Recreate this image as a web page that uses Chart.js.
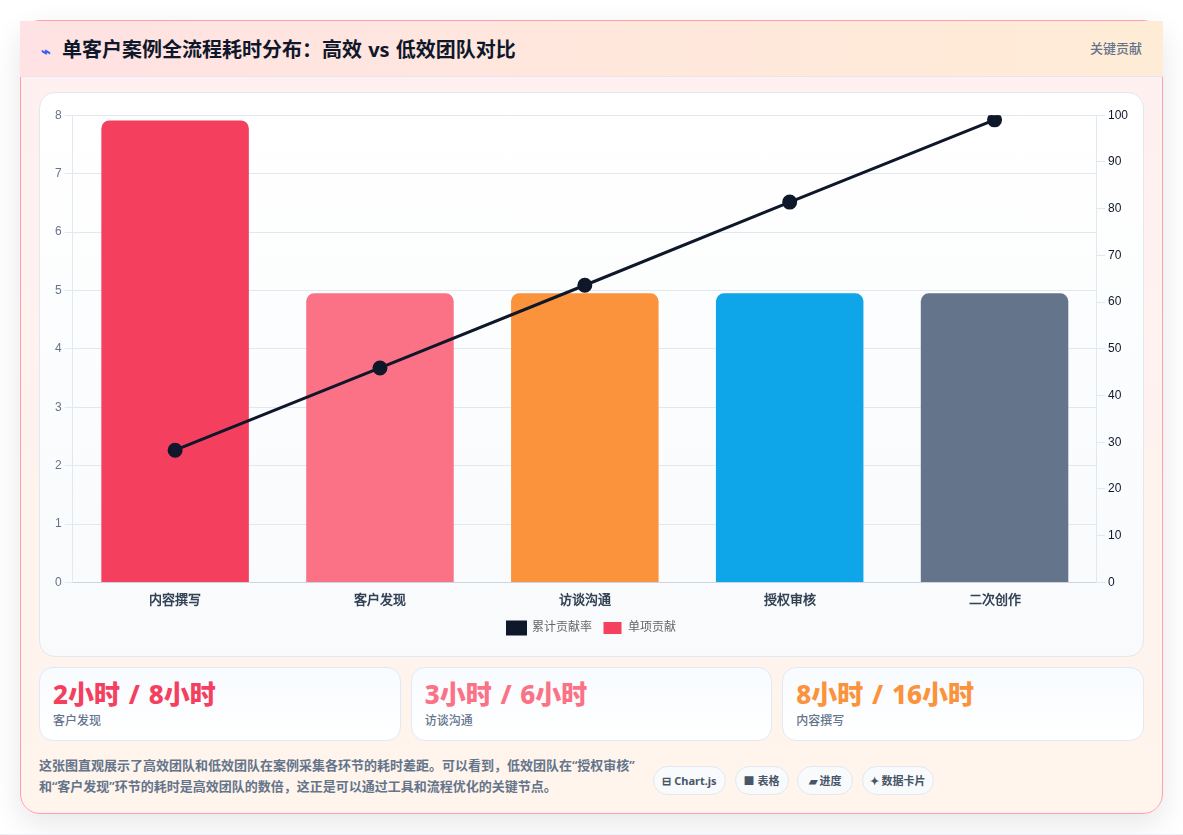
<!DOCTYPE html>
<html lang="zh-CN">
<head>
<meta charset="utf-8">
<title>单客户案例全流程耗时分布</title>
<script src="https://cdn.jsdelivr.net/npm/chart.js@4"></script>
<style>
  * { box-sizing: border-box; }
  html, body { margin: 0; height: 100%; overflow: hidden; }
  body {
    width: 1183px; height: 835px; position: relative; background: #fff;
    font-family: "Noto Sans", "Noto Sans CJK SC", sans-serif;
    border-bottom: 1px solid #eef0f4;
  }
  .card {
    position: absolute; left: 20px; top: 20px; width: 1143px; height: 794px;
    border: 1px solid #ff9fad; border-radius: 20px;
    background: linear-gradient(180deg, #fff0f1, #fff5ec);
    box-shadow: 0 10px 30px rgba(15, 23, 42, .10);
  }
  .head {
    position: absolute; left: -1px; top: 0; width: 1143px; height: 56px;
    background: linear-gradient(90deg, #ffe2e3, #ffecd6);
    border-bottom: 1px solid #e6e4f0;
  }
  .head h1 {
    position: absolute; left: 21px; top: 15px; margin: 0; font-size: 20px; line-height: 28px;
    font-weight: 700; color: #0f172a; white-space: nowrap; word-spacing: 1px;
  }
  .head h1 i { font-style: normal; color: #3b5bf6; margin-right: 11px; font-size: 16px; }
  .head span { position: absolute; right: 21px; top: 17px; font-size: 13px; line-height: 20px; color: #64748b; font-weight: 500; }
  .panel {
    position: absolute; left: 18px; top: 71px; width: 1105px; height: 565px;
    border: 1px solid #e2e8f0; border-radius: 16px;
    background: linear-gradient(180deg, #fff, #f8fafc);
  }
  .plot { position: absolute; left: 12px; top: 12px; width: 1079px; height: 539px; }
  .stat {
    position: absolute; top: 646px; width: 361.67px; height: 74px; padding: 10px 13px;
    background: linear-gradient(180deg, #f8fbff, #fff);
    border: 1px solid #dfe9f8; border-radius: 14px;
  }
  .stat b { display: block; font-size: 26px; line-height: 32px; font-weight: 800; word-spacing: 2px; white-space: nowrap; }
  .stat small { display: block; font-size: 12px; line-height: 18px; margin-top: 2px; color: #64748b; font-weight: 500; }
  .note {
    position: absolute; left: 18px; top: 734px; width: 620px; margin: 0;
    font-size: 13px; line-height: 21px; color: #64748b; font-weight: 600; white-space: nowrap;
  }
  .pills { position: absolute; left: 632px; top: 745px; display: flex; gap: 8.5px; }
  .pill {
    height: 29px; border: 1px solid #e2e8f0; border-radius: 15px; text-align: center;
    background: #f8fafc; color: #475569; font-size: 11px; font-weight: 700;
    line-height: 27px; white-space: nowrap;
  }
  .pill:nth-child(1) { width: 73px; }
  .pill:nth-child(2) { width: 54px; }
  .pill:nth-child(3) { width: 56px; }
  .pill:nth-child(4) { width: 72px; }
</style>
</head>
<body>
<div class="card">
  <div class="head">
    <h1><i>⌁</i>单客户案例全流程耗时分布：高效 vs 低效团队对比</h1>
    <span>关键贡献</span>
  </div>
  <div class="panel">
    <div class="plot"><canvas id="pareto"></canvas></div>
  </div>
  <div id="stats"></div>
  <p class="note">这张图直观展示了高效团队和低效团队在案例采集各环节的耗时差距。可以看到，低效团队在“授权审核”<br>和“客户发现”环节的耗时是高效团队的数倍，这正是可以通过工具和流程优化的关键节点。</p>
  <div class="pills" id="pills"></div>
</div>

<script>
var stages = ['内容撰写', '客户发现', '访谈沟通', '授权审核', '二次创作'];
var hours = [7.91, 4.95, 4.95, 4.95, 4.95];
var cumulative = [28.3, 45.9, 63.6, 81.4, 99];
var stageColors = ['#f43f5e', '#fb7185', '#fb923c', '#0ea5e9', '#64748b'];
var statValues = ['2小时 / 8小时', '3小时 / 6小时', '8小时 / 16小时'];
var statLabels = ['客户发现', '访谈沟通', '内容撰写'];
var statColors = ['#f43f5e', '#fb7185', '#fb923c'];
var pillLabels = ['⊟ Chart.js', '■ 表格', '▰ 进度', '✦ 数据卡片'];

// three equal cards with a 10px gap, spread across the panel width
document.getElementById('stats').innerHTML = statValues.map(function (v, i) {
  return '<div class="stat" style="left:' + (18 + i * 371.67) + 'px"><b style="color:' + statColors[i] + '">' + v +
    '</b><small>' + statLabels[i] + '</small></div>';
}).join('');
document.getElementById('pills').innerHTML = pillLabels.map(function (p) {
  return '<div class="pill">' + p + '</div>';
}).join('');

var ctx = document.getElementById('pareto').getContext('2d');
new Chart(ctx, {
  type: 'bar',
  data: {
    labels: stages,
    datasets: [{
      type: 'line',
      label: '累计贡献率',
      data: cumulative,
      yAxisID: 'y1',
      borderColor: '#0f172a',
      backgroundColor: '#0f172a',
      borderWidth: 3,
      pointRadius: 6,
      pointHoverRadius: 6,
      tension: 0,
      order: 1
    }, {
      type: 'bar',
      label: '单项贡献',
      data: hours,
      yAxisID: 'y',
      backgroundColor: stageColors,
      borderRadius: 8,
      order: 2
    }]
  },
  options: {
    responsive: true,
    maintainAspectRatio: false,
    animation: false,
    layout: { padding: { top: 3, right: 0, bottom: 0 } },
    scales: {
      x: {
        grid: { display: false },
        border: { color: '#cbd5e1' },
        ticks: { color: '#334155', padding: 2, font: { size: 13, weight: 'bold' } }
      },
      y: {
        position: 'left',
        min: 0,
        max: 8,
        ticks: { stepSize: 1, color: '#64748b', font: { size: 12 } },
        grid: { color: '#e2e8f0' },
        border: { color: '#e2e8f0' }
      },
      y1: {
        position: 'right',
        min: 0,
        max: 100,
        ticks: { stepSize: 10, color: '#0f172a', font: { size: 12 } },
        grid: { drawOnChartArea: false, color: '#e2e8f0' },
        border: { color: '#e2e8f0' }
      }
    },
    plugins: {
      legend: {
        position: 'bottom',
        labels: { boxWidth: 18, boxHeight: 12, font: { size: 12, weight: '500' }, padding: 12 }
      }
    }
  }
});
</script>
</body>
</html>
